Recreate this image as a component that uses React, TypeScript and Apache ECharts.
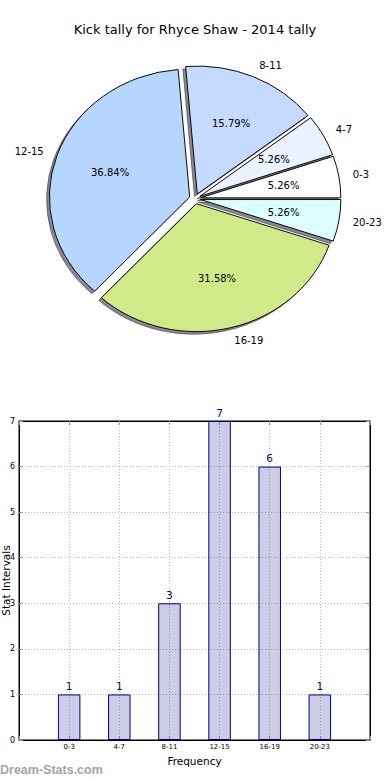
import React, { useEffect, useRef } from "react";
import * as echarts from "echarts";

const TITLE = "Kick tally for Rhyce Shaw - 2014 tally";
const WATERMARK = "Dream-Stats.com";

const pieLabels = ["0-3", "4-7", "8-11", "12-15", "16-19", "20-23"];
const pieValues = [1, 1, 3, 7, 6, 1];
const pieColors = ["#ffffff", "#eaf1ff", "#c6d9ff", "#b6d6ff", "#d0ea8a", "#dcffff"];

const barCategories = ["0-3", "4-7", "8-11", "12-15", "16-19", "20-23"];
const barValues = [1, 1, 3, 7, 6, 1];
const X_AXIS_NAME = "Frequency";
const Y_AXIS_NAME = "Stat Intervals";

const FONT = "DejaVu Sans";

// pie geometry (matplotlib-like, non-equal aspect -> ellipse)
const PIE_CX = 195;
const PIE_CY = 198.7;
const PIE_RX = 140.3;
const PIE_RY = 128;
const EXPLODE = 0.04;
const SHADOW = 0.02;
const LABEL_DIST = 1.1;
const PCT_DIST = 0.6;

export default function App() {
  const ref = useRef<HTMLDivElement>(null);

  useEffect(() => {
    if (!ref.current) return;
    const chart = echarts.init(ref.current, undefined, { renderer: "svg" });

    const total = pieValues.reduce((a, b) => a + b, 0);
    const starts: number[] = [];
    let acc = 0;
    pieValues.forEach((v) => {
      starts.push(acc);
      acc += v;
    });

    const geom = (i: number, v: number) => {
      const a1 = (starts[i] / total) * Math.PI * 2;
      const a2 = ((starts[i] + v) / total) * Math.PI * 2;
      const am = (a1 + a2) / 2;
      const ox = PIE_CX + EXPLODE * PIE_RX * Math.cos(am);
      const oy = PIE_CY - EXPLODE * PIE_RY * Math.sin(am);
      return { a1, a2, am, ox, oy };
    };

    const shadowItem = (params: any, api: any) => {
      const i = params.dataIndex;
      const v = api.value(0);
      const g = geom(i, v);
      return {
        type: "sector",
        x: g.ox - SHADOW * PIE_RX,
        y: g.oy + SHADOW * PIE_RY,
        scaleX: 1,
        scaleY: PIE_RY / PIE_RX,
        shape: { cx: 0, cy: 0, r: PIE_RX, r0: 0, startAngle: -g.a2, endAngle: -g.a1, clockwise: true },
        style: { fill: "rgba(40,40,50,0.55)", stroke: "rgba(40,40,50,0.55)", lineWidth: 1 },
      };
    };

    const wedgeItem = (params: any, api: any) => {
      const i = params.dataIndex;
      const v = api.value(0);
      const g = geom(i, v);
      const c = Math.cos(g.am);
      const s = Math.sin(g.am);
      const pct = ((v / total) * 100).toFixed(2) + "%";
      return {
        type: "group",
        children: [
          {
            type: "sector",
            x: g.ox,
            y: g.oy,
            scaleX: 1,
            scaleY: PIE_RY / PIE_RX,
            shape: { cx: 0, cy: 0, r: PIE_RX, r0: 0, startAngle: -g.a2, endAngle: -g.a1, clockwise: true },
            style: { fill: pieColors[i], stroke: "#000000", lineWidth: 1 },
          },
          {
            type: "text",
            x: g.ox + PCT_DIST * PIE_RX * c,
            y: g.oy - PCT_DIST * PIE_RY * s,
            style: {
              text: pct,
              fontSize: 10,
              fontFamily: FONT,
              fill: "#000000",
              align: "center",
              verticalAlign: "middle",
              textAlign: "center",
              textVerticalAlign: "middle",
            },
          },
          {
            type: "text",
            x: g.ox + LABEL_DIST * PIE_RX * c,
            y: g.oy - LABEL_DIST * PIE_RY * s,
            style: {
              text: pieLabels[i],
              fontSize: 10,
              fontFamily: FONT,
              fill: "#000000",
              align: c >= 0 ? "left" : "right",
              verticalAlign: "middle",
              textAlign: c >= 0 ? "left" : "right",
              textVerticalAlign: "middle",
            },
          },
        ],
      };
    };

    const gridLine = { color: "#b8b8b8", width: 1, type: [1, 2] as any };
    const frameLine = { show: true, onZero: false, lineStyle: { color: "#000000", width: 1 } };
    const innerTick = { show: true, inside: true, length: 4, lineStyle: { color: "#999999" } };

    const option: any = {
      animation: false,
      backgroundColor: "#ffffff",
      textStyle: { fontFamily: FONT },
      title: {
        text: TITLE,
        left: "center",
        top: 23,
        padding: 0,
        textStyle: { fontFamily: FONT, fontSize: 13, fontWeight: "normal", color: "#000000" },
      },
      graphic: [
        {
          type: "text",
          left: 0,
          top: 763,
          style: {
            text: WATERMARK,
            fontSize: 12.5,
            fontWeight: "bold",
            fontFamily: "Liberation Sans",
            fill: "#a5a5a5",
          },
        },
      ],
      grid: {
        left: 19,
        top: 421,
        right: 20,
        bottom: 40,
        containLabel: false,
        outerBoundsMode: "none",
        show: true,
        borderColor: "#000000",
        borderWidth: 1,
        backgroundColor: "transparent",
      },
      xAxis: [
        {
          type: "value",
          min: -1,
          max: 6,
          interval: 1,
          position: "bottom",
          name: X_AXIS_NAME,
          nameLocation: "middle",
          nameGap: 15,
          nameMoveOverlap: false,
          nameTextStyle: { fontFamily: FONT, fontSize: 10.5, color: "#000000" },
          axisLine: frameLine,
          axisTick: innerTick,
          axisLabel: {
            fontFamily: FONT,
            fontSize: 7,
            color: "#000000",
            margin: 3,
            formatter: (v: number) => barCategories[v] ?? "",
          },
          splitLine: { show: true, lineStyle: gridLine },
        },
        {
          type: "value",
          min: -1,
          max: 6,
          interval: 1,
          position: "top",
          axisLine: frameLine,
          axisTick: innerTick,
          axisLabel: { show: false },
          splitLine: { show: false },
        },
      ],
      yAxis: [
        {
          type: "value",
          min: 0,
          max: 7,
          interval: 1,
          position: "left",
          name: Y_AXIS_NAME,
          nameLocation: "middle",
          nameGap: 8,
          nameMoveOverlap: false,
          nameTextStyle: { fontFamily: FONT, fontSize: 10.5, color: "#000000" },
          axisLine: frameLine,
          axisTick: innerTick,
          axisLabel: { fontFamily: FONT, fontSize: 8, color: "#000000", margin: 4 },
          splitLine: { show: true, lineStyle: gridLine },
        },
        {
          type: "value",
          min: 0,
          max: 7,
          interval: 1,
          position: "right",
          axisLine: frameLine,
          axisTick: innerTick,
          axisLabel: { show: false },
          splitLine: { show: false },
        },
      ],
      series: [
        {
          type: "custom",
          coordinateSystem: "none",
          z: 1,
          silent: true,
          data: pieValues,
          renderItem: shadowItem,
        },
        {
          type: "custom",
          coordinateSystem: "none",
          z: 2,
          silent: true,
          data: pieValues,
          renderItem: wedgeItem,
        },
        {
          type: "bar",
          xAxisIndex: 0,
          yAxisIndex: 0,
          barWidth: 22.5,
          data: barValues.map((v, i) => [i, v]),
          itemStyle: { color: "rgba(0,0,128,0.2)", borderColor: "#000080", borderWidth: 1 },
          label: {
            show: true,
            position: "top",
            distance: 3,
            fontFamily: FONT,
            fontSize: 10.5,
            color: "#00008b",
            formatter: (p: any) => String(p.value[1]),
          },
        },
      ],
    };

    chart.setOption(option);
    return () => chart.dispose();
  }, []);

  return (
    <div
      ref={ref}
      style={{ position: "absolute", left: 0, top: 0, width: 390, height: 780, background: "#ffffff" }}
    />
  );
}
